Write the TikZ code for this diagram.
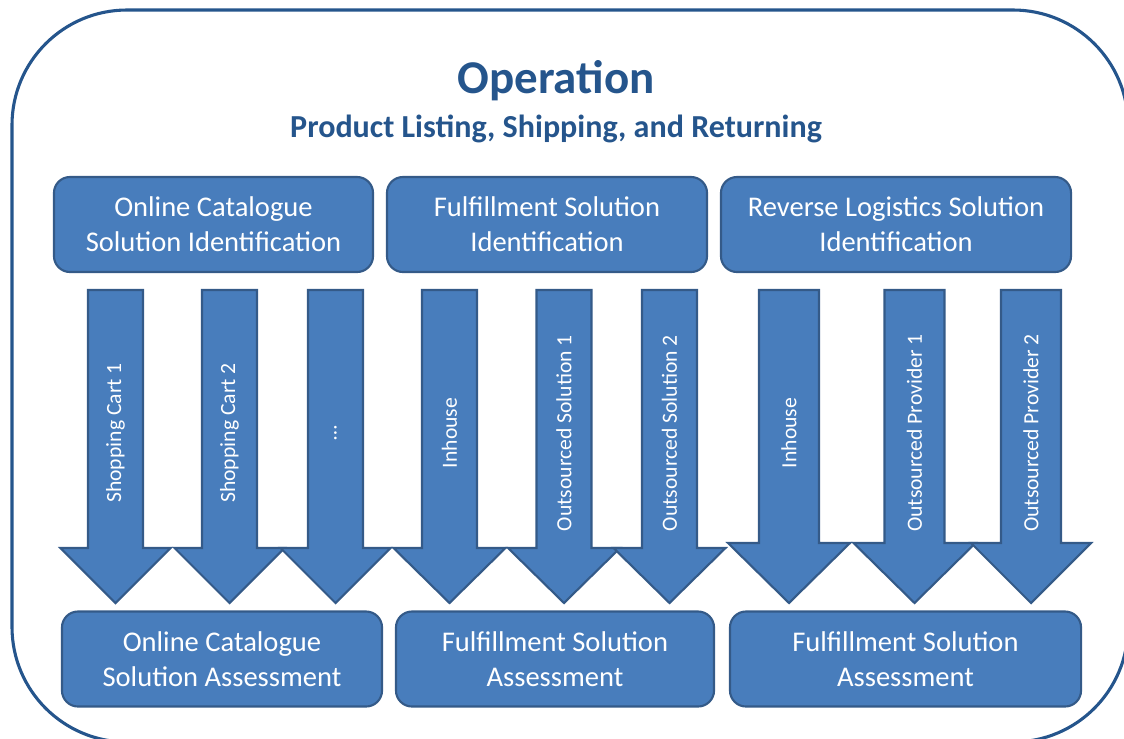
\documentclass[tikz,border=0pt]{standalone}
\usepackage{fontspec}
\setmainfont{Carlito}
\definecolor{boxblue}{RGB}{72,125,188}
\definecolor{boxedge}{RGB}{52,90,136}
\definecolor{titleblue}{RGB}{37,85,140}

\tikzset{
  idbox/.style={draw=boxedge, line width=1.5pt, fill=boxblue, rounded corners=0.4cm,
    text=white, align=center, inner sep=0pt, minimum height=2.375cm,
    font=\fontsize{20.3}{24.9}\selectfont},
  blockarrow/.style={draw=boxedge, line width=1.5pt, fill=boxblue, line join=miter},
  arrowlabel/.style={text=white, rotate=90, inner sep=0pt, font=\fontsize{15.4}{18}\selectfont}
}

\begin{document}
\begin{tikzpicture}[x=0.025cm,y=-0.025cm]
\useasboundingbox (0,0) rectangle (1124,738);
\clip (0,0) rectangle (1124,738);
\draw [line width=2.2pt, titleblue, rounded corners=2.875cm] (12,10) rectangle (1128,742);

\node (title) [anchor=base, text=titleblue, font=\fontsize{33.4}{40}\bfseries\selectfont] at (556,93) {Operation};
\node (subtitle) [anchor=base, text=titleblue, font=\fontsize{22.8}{27}\bfseries\selectfont] at (556,137) {Product Listing, Shipping, and Returning};

% identification boxes
\node (catid) [idbox, minimum width=7.975cm] at (213.5,224.5) {Online Catalogue\\Solution Identification};
\node (fulid) [idbox, minimum width=8cm] at (547,224.5) {Fulfillment Solution\\Identification};
\node (revid) [idbox, minimum width=8.75cm] at (896,224.5) {Reverse Logistics Solution\\Identification};

% block arrows
\foreach \n/\x/\s/\h/\b/\lab in {1/115.5/27.5/55/548/Shopping Cart 1, 2/229.5/27.5/55/548/Shopping Cart 2, 3/335.5/27.5/55/548/\dots,
  4/449.5/27.5/56/548/Inhouse, 5/564/27.5/56/548/Outsourced Solution 1, 6/669.5/27.5/56/548/Outsourced Solution 2,
  7/789/30/61/543/Inhouse, 8/914.5/30/61/543/Outsourced Provider 1, 9/1031/30/60/543/Outsourced Provider 2}
{
  \draw [blockarrow] (\x-\s,290) -- (\x+\s,290) -- (\x+\s,\b) -- (\x+\h,\b) -- (\x,603)
    -- (\x-\h,\b) -- (\x-\s,\b) -- cycle;
  \node (arrow\n) [arrowlabel] at (\x,433) {\lab};
}

% assessment boxes
\node (catas) [idbox, minimum width=8cm] at (222,659) {Online Catalogue\\Solution Assessment};
\node (fulas) [idbox, minimum width=7.95cm] at (555,659) {Fulfillment Solution\\Assessment};
\node (revas) [idbox, minimum width=8.775cm] at (905.5,659) {Fulfillment Solution\\Assessment};

\end{tikzpicture}
\end{document}
